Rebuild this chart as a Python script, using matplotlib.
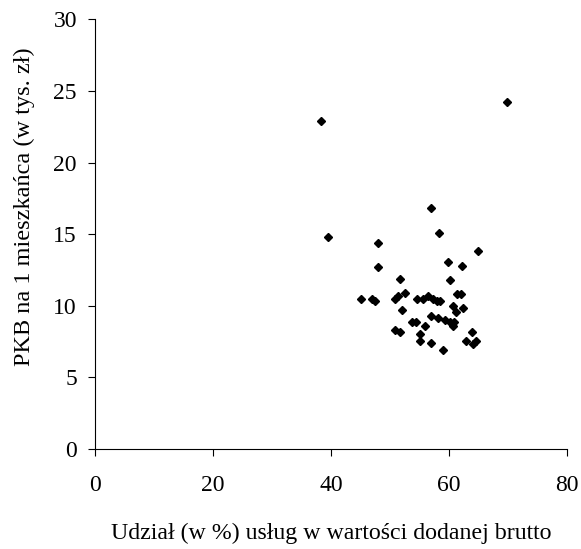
import matplotlib
matplotlib.use("Agg")
import matplotlib.pyplot as plt

# udział usług (%) i PKB na 1 mieszkańca (tys. zł)
uslugi = [38.3, 69.9, 56.9, 39.5, 47.9, 58.3, 64.9, 48.0, 59.8, 62.2,
          51.7, 60.2, 45.1, 46.9, 47.4, 50.9, 51.3, 52.6, 54.6, 55.6,
          56.5, 57.3, 58.0, 58.5, 61.4, 62.0, 60.7, 62.4, 52.1, 61.1,
          56.9, 58.2, 59.4, 60.2, 60.9, 60.6, 53.7, 54.4, 56.0, 50.9,
          51.7, 55.1, 55.1, 56.9, 58.9, 63.9, 62.9, 64.0, 64.6]
pkb = [22.9, 24.2, 16.8, 14.8, 14.4, 15.05, 13.8, 12.7, 13.05, 12.8,
       11.9, 11.8, 10.45, 10.5, 10.3, 10.45, 10.7, 10.9, 10.5, 10.45,
       10.7, 10.45, 10.3, 10.3, 10.8, 10.85, 10.0, 9.85, 9.7, 9.55,
       9.3, 9.15, 9.0, 8.85, 8.9, 8.6, 8.85, 8.9, 8.6, 8.3,
       8.2, 8.0, 7.55, 7.4, 6.9, 8.2, 7.55, 7.3, 7.55]

plt.rcParams['font.family'] = ['Liberation Serif', 'DejaVu Serif']

fig = plt.figure(figsize=(5.81, 5.49), dpi=100)
ax = fig.add_axes([0.1635, 0.182, 0.8125, 0.783])

ax.plot(uslugi, pkb, linestyle='none', marker='D', color='black', markersize=4.3)

ax.set_xlim(0, 80)
ax.set_ylim(0, 30)
ax.set_xticks([0, 20, 40, 60, 80])
ax.set_yticks([0, 5, 10, 15, 20, 25, 30])
ax.spines['top'].set_visible(False)
ax.spines['right'].set_visible(False)
ax.tick_params(direction='out', length=5, labelsize=17)
ax.tick_params(axis='x', pad=14)
ax.tick_params(axis='y', pad=8)

ax.set_xlabel('Udział (w %) usług w wartości dodanej brutto', fontsize=17.2, labelpad=19)
ax.set_ylabel('PKB na 1 mieszkańca (w tys. zł)', fontsize=17.5)
ax.yaxis.set_label_coords(-0.128, 0.563)

fig.savefig('out.png', dpi=100)
